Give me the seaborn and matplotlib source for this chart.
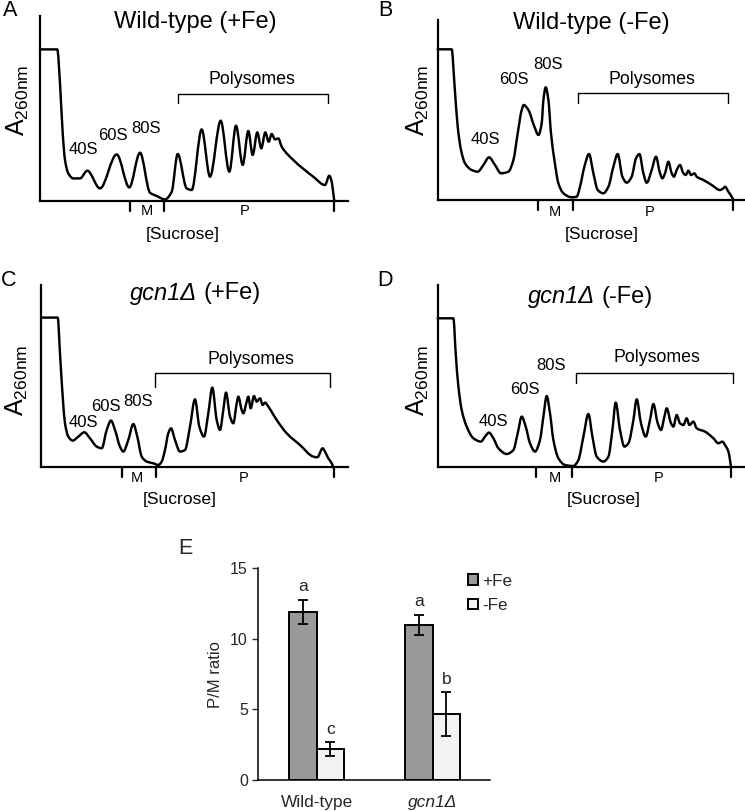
import numpy as np
import pandas as pd
import matplotlib
matplotlib.use('Agg')
import matplotlib.pyplot as plt
from matplotlib.path import Path
from matplotlib.patches import PathPatch, Patch
import seaborn as sns

# ---------------- polysome profile traces ----------------
# x: position along gradient, y: A260 (arbitrary units)
A_x = [0, 17.3, 20, 22.7, 25, 28.3, 33.3, 40, 47.3, 60, 76.7, 89.3, 100, 110, 116.7, 125,
       131.7, 137.7, 146.7, 151.7, 161.7, 170, 180.7, 189.3, 196, 202.7, 208.3, 212.7, 217.3,
       221.3, 225.3, 228.7, 231.7, 235, 238.3, 241.7, 253.3, 273.3, 285, 289.3, 291.7, 293.3, 294.3]
A_y = [151.3, 151.3, 117.3, 67.3, 40.7, 27.3, 22.3, 22.3, 30, 12.3, 46.3, 13.3, 48, 8, 4.7, 1.3,
       9, 46.7, 12.3, 10.7, 71.3, 24, 80, 29, 75, 35.7, 69.7, 45.7, 68.3,
       52.3, 68.3, 59, 66.7, 61.3, 62.3, 54, 40.7, 24, 15.7, 25, 19, 7.3, 0]

B_x = [0, 14, 16.7, 20, 23.3, 27.3, 34, 40, 45.7, 51.3, 57.3, 63.3, 70.7, 75.7, 80, 84, 86, 90.7,
       96.7, 100.7, 104, 105.7, 108, 110.7, 113.3, 116.7, 120.7, 125.7, 134, 139, 142.3, 146.7,
       151.3, 155.7, 160, 165.7, 170.7, 175.7, 180, 184.7, 189, 194, 198.3, 201.7, 205.7, 209,
       214, 218.3, 222.3, 224.7, 227.3, 230.7, 234, 236.3, 239, 242.3, 245.7, 248, 250.7, 253.3,
       256.7, 259, 265.7, 274, 282.3, 285.7, 287.3, 290.7, 294, 295.7]
B_y = [150.7, 150.7, 116.7, 73.3, 50, 36.7, 30, 28.3, 35, 42.7, 35, 26.7, 28.3, 40, 66.7, 90, 95, 90,
       73.3, 65, 76.7, 100, 112.7, 100, 66.7, 40, 16.7, 6.7, 2.7, 3.3, 13.3, 33.3,
       46, 26.7, 10, 6.7, 13.3, 33.3, 46, 23.3, 17.3, 23.3, 41.7, 46, 26.7, 17.3,
       30, 43.3, 26.7, 21.7, 26.7, 38.3, 26.7, 23.3, 30, 35, 26.7, 25, 29.3, 25,
       26.7, 23.3, 20, 15, 10, 11.7, 13.3, 8.3, 3.3, 0]

C_x = [0, 16.7, 19, 21.7, 24, 27.3, 31.7, 37.3, 43.3, 49, 55.7, 60.7, 65.7, 70, 74, 79, 82.3,
       87.3, 92.3, 96.3, 100.7, 105.7, 112.3, 117.3, 120.7, 124, 127.3, 130, 134, 139, 144, 149,
       154, 158.3, 163, 167.3, 171.3, 175.7, 179, 182.3, 185, 189, 192.3, 195.7, 197.3, 200.7,
       202.3, 205.7, 207.3, 209.7, 213, 215.7, 219, 221.7, 224, 227.3, 235.7, 245.7, 259, 272.3,
       276.3, 281.7, 284, 287.3, 290.7, 292.3]
C_y = [149.7, 149.7, 114, 70.7, 44, 30.7, 26.7, 30.7, 35, 29, 20.7, 19, 37.3, 46.7, 37.3, 20.7, 15.7,
       27.3, 43.3, 30.7, 10.7, 5.7, 4, 2.3, 5.7, 17.3, 34, 39, 27.3, 15.7, 17.3, 40.7,
       68, 40.7, 30.7, 54, 79.7, 47.3, 37.3, 57.3, 74.7, 50.7, 44, 64, 70.7, 57.3,
       54, 65.7, 70.7, 59, 71.3, 65.7, 69, 62.3, 64.7, 60.7, 47.3, 34, 22.3, 10.7,
       10, 19, 15.7, 9, 4, 0]

D_x = [0, 15.7, 18, 20.7, 24, 29, 35.7, 43.3, 47.3, 51.3, 55.7, 60.7, 69, 75.7, 80, 84, 88, 92.3,
       97.3, 102.3, 105.7, 109, 112.3, 115.7, 120.7, 127.3, 135.7, 140.7, 145.7, 150.7, 154.7,
       159, 165.7, 170.7, 174.7, 178, 182.3, 186.7, 190.7, 195.7, 199, 203.3, 208, 212.3, 215.7,
       220, 223.3, 226.7, 229, 233.3, 235.7, 239, 242.3, 245.7, 249, 251.7, 255.7, 259, 267.3,
       275.7, 280.7, 284.7, 287.3, 290.7, 292.3, 293.3]
D_y = [149, 149, 114, 80.7, 57.3, 40.7, 29, 25.7, 30.7, 34.7, 29, 19, 13.3, 17.3, 34, 50.7, 40.7, 24,
       15.7, 27.3, 50.7, 71.3, 54, 27.3, 9, 2.3, 1.3, 7.3, 30.7, 53.3, 30.7,
       10.7, 5.7, 10.7, 37.3, 64.7, 37.3, 20.7, 24, 47.3, 68, 44, 30.7, 47.3, 63.3,
       44, 37.3, 50.7, 59, 44, 40.7, 52.3, 44, 42.3, 49, 42.3, 45.7, 39, 35.7,
       29, 24, 25.7, 22.3, 15.7, 7.3, 0]

panel_letters = ['A', 'B', 'C', 'D']
# (italic part, regular part)
panel_titles = [('', 'Wild-type (+Fe)'), ('', 'Wild-type (-Fe)'),
                ('gcn1Δ', '(+Fe)'), ('gcn1Δ', '(-Fe)')]
peak_labels = ['40S', '60S', '80S']

# ---------------- P/M ratio bar data ----------------
strains = ['Wild-type', 'gcn1Δ']
conditions = ['+Fe', '-Fe']
pm_plus = [11.9, 11.0]
pm_minus = [2.2, 4.68]
err_plus = [0.88, 0.70]
err_minus = [0.47, 1.53]
letters_plus = ['a', 'a']
letters_minus = ['c', 'b']
yticks_E = [0, 5, 10, 15]

# ---------------- style ----------------
sns.set_style('white')
plt.rcParams['font.family'] = ['Liberation Sans', 'DejaVu Sans']
plt.rcParams['mathtext.fontset'] = 'custom'
plt.rcParams['mathtext.rm'] = 'Liberation Sans'
plt.rcParams['mathtext.it'] = 'Liberation Sans:italic'

W, H = 745, 811
fig = plt.figure(figsize=(W / 100, H / 100), dpi=100)
renderer = fig.canvas.get_renderer()


def px_axes(left, right, top, bottom):
    return fig.add_axes([left / W, 1 - bottom / H, (right - left) / W, (bottom - top) / H])


def pchip_path(x, y):
    x = np.asarray(x, float)
    y = np.asarray(y, float)
    h = np.diff(x)
    d = np.diff(y) / h
    n = len(x)
    m = np.zeros(n)
    m[0], m[-1] = d[0], d[-1]
    for k in range(1, n - 1):
        if d[k - 1] * d[k] <= 0:
            m[k] = 0
        else:
            w1 = 2 * h[k] + h[k - 1]
            w2 = h[k] + 2 * h[k - 1]
            m[k] = (w1 + w2) / (w1 / d[k - 1] + w2 / d[k])
    verts = [(x[0], y[0])]
    codes = [Path.MOVETO]
    for k in range(n - 1):
        verts += [(x[k] + h[k] / 3, y[k] + m[k] * h[k] / 3),
                  (x[k + 1] - h[k] / 3, y[k + 1] - m[k + 1] * h[k] / 3),
                  (x[k + 1], y[k + 1])]
        codes += [Path.CURVE4] * 3
    return Path(verts, codes)


# layout for each profile panel (pixel frame + annotation positions in axis units = pixels)
layouts = [
    dict(frame=(40, 347.7, 16, 200.7), title=(155, 179), peaks=[(43.3, 50.7), (73.3, 65.7), (105.7, 72.3)],
         poly=(211.7, 121.7), br=(137.7, 288.3, 106.7, 97.3), ticks=(90, 124, 294.3),
         M=(106.7, -10), P=(205, -10), suc=(142.7, -34.3), ylab=(-21.7, 100.7), letter=(-30, 190.7)),
    dict(frame=(437.7, 744.3, 20, 200), title=(154, 176.7), peaks=[(47.3, 60.7), (75.7, 120.7), (110, 135.7)],
         poly=(214, 121), br=(140, 290.7, 106.7, 96.7), ticks=(100, 135.7, 295),
         M=(117.3, -11.7), P=(212.3, -11.7), suc=(164, -35), ylab=(-19.3, 100), letter=(-52.7, 190)),
    dict(frame=(41, 347.7, 285, 467.3), title=(154, 174), peaks=[(42.3, 44.7), (65, 60.7), (97.3, 65.7)],
         poly=(209.7, 107.3), br=(114, 289, 94.7, 80.7), ticks=(80.7, 115, 293.3),
         M=(95.7, -11), P=(202.3, -11), suc=(139, -32.7), ylab=(-24.3, 87.3), letter=(-32.7, 187.3)),
    dict(frame=(437.7, 744.3, 285, 467.3), title=(152.3, 170.7), peaks=[(55.7, 45.7), (86.7, 77.3), (113, 101.3)],
         poly=(219, 110), br=(138.3, 295.7, 94.7, 84.7), ticks=(98.3, 134, 293.3),
         M=(117.3, -11), P=(220.7, -11), suc=(165.7, -32.7), ylab=(-19.3, 87.3), letter=(-52.7, 187.3)),
]
traces = [(A_x, A_y), (B_x, B_y), (C_x, C_y), (D_x, D_y)]
TITLE_FS = 17

for i, (lay, (tx, ty)) in enumerate(zip(layouts, traces)):
    l, r, t, b = lay['frame']
    ax = px_axes(l, r, t, b)
    ax.set_xlim(0, r - l)
    ax.set_ylim(0, b - t)
    ax.set_facecolor('none')
    for s in ['top', 'right']:
        ax.spines[s].set_visible(False)
    for s in ['left', 'bottom']:
        ax.spines[s].set_linewidth(1.6)
        ax.spines[s].set_color('black')
    ax.set_xticks([])
    ax.set_yticks([])
    ax.add_patch(PathPatch(pchip_path(tx, ty), facecolor='none', edgecolor='black',
                           lw=1.75, joinstyle='round', capstyle='round', clip_on=False))
    kw = dict(clip_on=False, color='black')
    # title (italic gene name + regular condition)
    it_part, rg_part = panel_titles[i]
    cx, cy = lay['title']
    if it_part:
        t1 = ax.text(cx, cy, it_part, ha='left', va='center', fontsize=TITLE_FS, style='italic', **kw)
        t2 = ax.text(cx, cy, rg_part, ha='left', va='center', fontsize=TITLE_FS, **kw)
        w1 = t1.get_window_extent(renderer).width
        w2 = t2.get_window_extent(renderer).width
        gap = 0.278 * TITLE_FS * 100 / 72
        x0 = cx - (w1 + gap + w2) / 2
        t1.set_x(x0)
        t2.set_x(x0 + w1 + gap)
    else:
        ax.text(cx, cy, rg_part, ha='center', va='center', fontsize=TITLE_FS, **kw)
    for (px, py), lab in zip(lay['peaks'], peak_labels):
        ax.text(px, py, lab, ha='center', va='center', fontsize=12, **kw)
    ax.text(*lay['poly'], 'Polysomes', ha='center', va='center', fontsize=12.8, **kw)
    bx0, bx1, by, by2 = lay['br']
    ax.plot([bx0, bx0, bx1, bx1], [by2, by, by, by2], lw=1.0, **kw)
    for xt in lay['ticks']:
        ax.plot([xt, xt], [0, -10], lw=1.6, **kw)
    ax.text(*lay['M'], 'M', ha='center', va='center', fontsize=10.5, **kw)
    ax.text(*lay['P'], 'P', ha='center', va='center', fontsize=10.5, **kw)
    ax.text(*lay['suc'], '[Sucrose]', ha='center', va='center', fontsize=12.6, **kw)
    ax.text(*lay['ylab'], r'A$_{\mathregular{260nm}}$', ha='center', va='center', rotation=90,
            fontsize=18, **kw)
    ax.text(*lay['letter'], panel_letters[i], ha='center', va='center', fontsize=15.5, **kw)

# ---------------- panel E ----------------
axE = px_axes(257.7, 490, 568.3, 780)
df = pd.DataFrame({
    'strain': strains * 2,
    'condition': [conditions[0]] * 2 + [conditions[1]] * 2,
    'ratio': pm_plus + pm_minus,
})
sns.barplot(data=df, x='strain', y='ratio', hue='condition', order=strains, hue_order=conditions,
            palette={'+Fe': '#999999', '-Fe': '#f2f2f2'}, edgecolor='black', linewidth=1.4,
            width=0.47, errorbar=None, legend=False, ax=axE)
errs = [err_plus, err_minus]
means = [pm_plus, pm_minus]
lets = [letters_plus, letters_minus]
bar_containers = list(axE.containers)
for ci, cont in enumerate(bar_containers):
    for bi, bar in enumerate(cont.patches):
        xc = bar.get_x() + bar.get_width() / 2
        axE.errorbar(xc, means[ci][bi], yerr=errs[ci][bi], color='black', lw=1.3,
                     capsize=3.5, capthick=1.3, zorder=5)
        axE.text(xc, means[ci][bi] + errs[ci][bi] + 0.6, lets[ci][bi], ha='center', va='baseline',
                 fontsize=12.5)
axE.set_xlim(-0.509, 1.494)
axE.set_ylim(0, 15)
axE.set_yticks(yticks_E)
axE.set_yticklabels([str(v) for v in yticks_E], fontsize=11.5)
axE.tick_params(axis='y', direction='out', length=4, width=1, left=True, pad=3)
axE.tick_params(axis='x', length=0, labelsize=12.5, pad=11)
xtl = axE.get_xticklabels()
xtl[1].set_fontstyle('italic')
axE.set_xlabel('')
axE.set_ylabel('P/M ratio', fontsize=12, labelpad=5)
for s in ['top', 'right']:
    axE.spines[s].set_visible(False)
for s in ['left', 'bottom']:
    axE.spines[s].set_linewidth(1.1)
    axE.spines[s].set_color('black')
handles = [Patch(facecolor='#999999', edgecolor='black', lw=1.4, label=conditions[0]),
           Patch(facecolor='#f2f2f2', edgecolor='black', lw=1.4, label=conditions[1])]
axE.legend(handles=handles, loc='upper left', bbox_to_anchor=(0.905, 0.975), frameon=False,
           fontsize=12.3, handlelength=0.6, handleheight=0.6, handletextpad=0.25,
           labelspacing=0.55, borderpad=0, borderaxespad=0)
fig.text(185 / W, 1 - 549 / H, 'E', ha='center', va='center', fontsize=15.5)

fig.savefig('out.png', dpi=100)
